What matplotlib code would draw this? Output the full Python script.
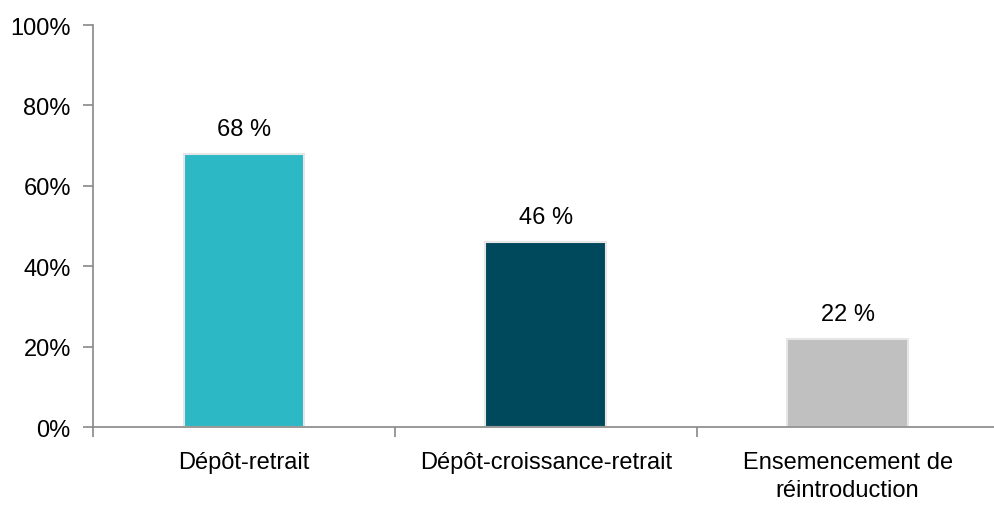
import matplotlib.pyplot as plt

categories = ['Dépôt-retrait', 'Dépôt-croissance-retrait', 'Ensemencement de\nréintroduction']
values = [68, 46, 22]
labels = ['68 %', '46 %', '22 %']
colors = ['#2CB8C4', '#00495C', '#C0C0C0']
yticks = [0, 20, 40, 60, 80, 100]

plt.rcParams['font.family'] = ['Liberation Sans', 'DejaVu Sans']
plt.rcParams['font.size'] = 17

fig = plt.figure(figsize=(9.95, 5.06), dpi=100)
ax = fig.add_axes([0.0935, 0.154, 0.91, 0.7946])

x = range(len(categories))
ax.bar(x, values, width=0.4, color=colors, edgecolor='#E6E6E6', linewidth=1.5)
for xi, v, lab in zip(x, values, labels):
    ax.text(xi, v + 3.5, lab, ha='center', va='bottom', fontsize=17)

ax.set_xlim(-0.5, 2.5)
ax.set_ylim(0, 100)
ax.set_yticks(yticks)
ax.set_yticklabels([f'{t}%' for t in yticks])
ax.set_xticks([-0.5, 0.5, 1.5, 2.5])
ax.set_xticklabels([])
ax.set_xticks(list(x), minor=True)
ax.set_xticklabels(categories, minor=True, linespacing=1.4)
ax.tick_params(axis='x', which='minor', length=0, pad=17)
ax.tick_params(axis='x', which='major', length=7, color='#888888', width=1.2)
ax.tick_params(axis='y', length=7, color='#888888', width=1.2, pad=9)

for s in ['top', 'right']:
    ax.spines[s].set_visible(False)
for s in ['left', 'bottom']:
    ax.spines[s].set_color('#888888')
    ax.spines[s].set_linewidth(1.2)

fig.savefig('out.png', dpi=100)
